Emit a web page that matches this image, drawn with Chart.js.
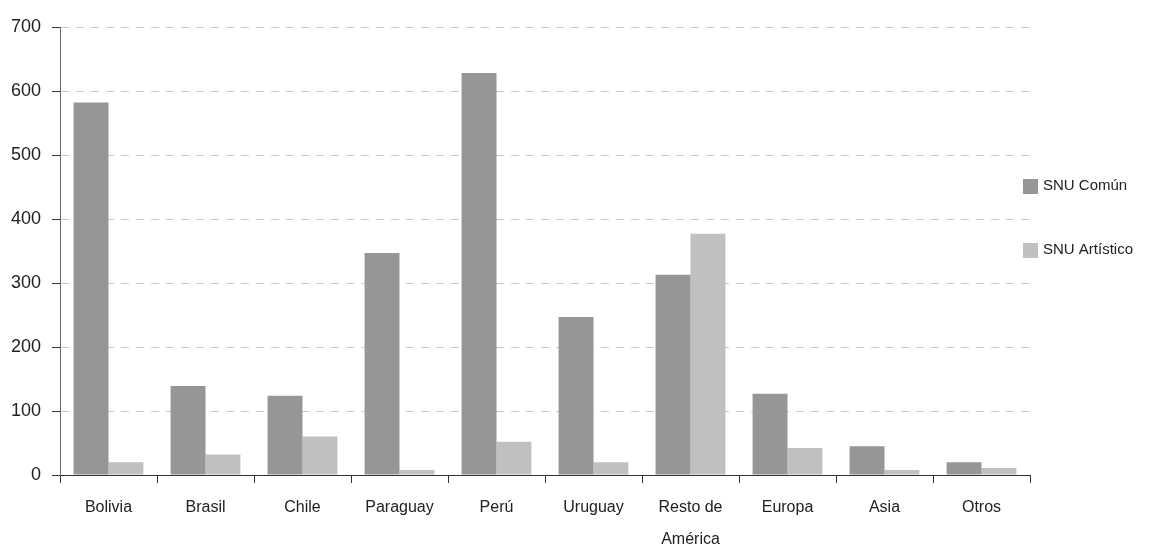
<!DOCTYPE html>
<html>
<head>
<meta charset="utf-8">
<script src="https://cdn.jsdelivr.net/npm/chart.js@4/dist/chart.umd.min.js"></script>
<style>
html,body{margin:0;padding:0;background:#fff;}
#wrap{width:1158px;height:546px;position:relative;}
</style>
</head>
<body>
<div id="wrap"><canvas id="c"></canvas></div>
<script>
const categories=['Bolivia','Brasil','Chile','Paraguay','Perú','Uruguay',['Resto de','América'],'Europa','Asia','Otros'];
const snuComun=[582,139,124,347,628,247,313,127,45,20];
const snuArtistico=[20,32,60,8,52,20,377,42,8,11];
const yTicks=[0,100,200,300,400,500,600,700];

const FONT="'Liberation Sans',Arial,sans-serif";

// legend drawn at the right, from the datasets
const sideLegend={
  id:'sideLegend',
  afterDraw(chart){
    const ctx=chart.ctx;
    const x=chart.chartArea.right-7;
    const y0=186, step=64;
    ctx.save();
    ctx.font='15px '+FONT;
    ctx.textBaseline='middle';
    chart.data.datasets.forEach((ds,i)=>{
      const y=y0+i*step;
      ctx.fillStyle=ds.backgroundColor;
      ctx.fillRect(x,y-7,15,15);
      ctx.fillStyle='#222';
      ctx.fillText(ds.label,x+20,y);
    });
    ctx.restore();
  }
};

new Chart(document.getElementById('c'),{
  type:'bar',
  data:{labels:categories,datasets:[
    {label:'SNU Común',data:snuComun,backgroundColor:'#969696',categoryPercentage:0.72,barPercentage:1},
    {label:'SNU Artístico',data:snuArtistico,backgroundColor:'#c0c0c0',categoryPercentage:0.72,barPercentage:1}
  ]},
  options:{
    responsive:true,maintainAspectRatio:false,animation:false,
    layout:{padding:{left:0,right:128,top:27,bottom:0}},
    plugins:{tooltip:{enabled:false},legend:{display:false}},
    scales:{
      x:{
        grid:{offset:true,drawOnChartArea:false,drawTicks:true,tickLength:8,tickColor:'#333'},
        border:{color:'#333',width:1},
        ticks:{color:'#222',padding:9,maxRotation:0,autoSkip:false,font:{family:FONT,size:16,lineHeight:2}},
        afterFit:s=>{s.height=71;}
      },
      y:{
        min:0,max:700,
        afterBuildTicks:s=>{s.ticks=yTicks.map(v=>({value:v}));},
        grid:{color:'#cacaca',drawTicks:true,tickLength:8,tickColor:'#333'},
        border:{color:'#666',width:1,dash:[8,7]},
        ticks:{color:'#222',padding:11,font:{family:FONT,size:18}},
        afterFit:s=>{s.width=60;}
      }
    }
  },
  plugins:[sideLegend]
});
</script>
</body>
</html>
